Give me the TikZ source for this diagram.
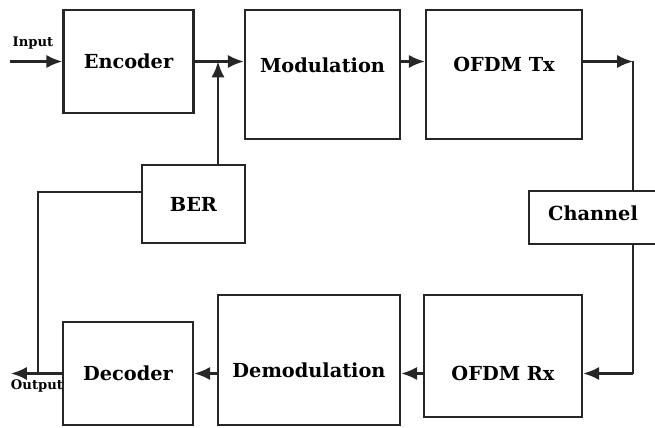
\documentclass[tikz,border=0pt]{standalone}
\usepackage{fontspec}
\setmainfont{DejaVu Serif}
\usetikzlibrary{arrows.meta, positioning, calc}

\tikzset{
	block/.style={draw, line width=1.4pt, inner sep=0pt},
	blocktxt/.style={font=\bfseries\fontsize{11}{13}\selectfont},
	smalltxt/.style={font=\bfseries\fontsize{7.5}{9}\selectfont},
	every label/.style={blocktxt},
}

\begin{document}
\begin{tikzpicture}[x=0.02cm, y=-0.02cm, line width=1.4pt, draw=black!85,
		>={Latex[length=9pt,width=7.5pt]}]
		\useasboundingbox (0,0) rectangle (655,428);

		% transmit side
		\node[block, minimum width=2.6cm, minimum height=2.06cm, label={center:Encoder}] (enc) at (128.5,61.5) {};
		\node[block, minimum width=3.1cm, minimum height=2.58cm, label={[yshift=0.18cm]center:Modulation}] (mod) at (322.5,74.5) {};
		\node[block, minimum width=3.12cm, minimum height=2.58cm, label={[yshift=0.2cm]center:OFDM Tx}] (tx) at (504,74.5) {};
		\node[block, minimum width=2.56cm, minimum height=1.06cm, label={[yshift=0.08cm]center:Channel}] (chan) at (593,217.5) {};

		% receive side
		\node[block, minimum width=3.16cm, minimum height=2.44cm, label={[yshift=-0.34cm]center:OFDM Rx}] (rx) at (503,356) {};
		\node[block, minimum width=3.64cm, minimum height=2.6cm, label={[yshift=-0.2cm]center:Demodulation}] (demod) at (309,360) {};
		\node[block, minimum width=2.6cm, minimum height=2.06cm, label={center:Decoder}] (dec) at (128,373.5) {};
		\node[block, minimum width=2.06cm, minimum height=1.56cm, label={center:BER}] (ber) at (193.5,204) {};

		\node[smalltxt] (inlbl) at (33,43) {Input};
		\node[smalltxt] (outlbl) at (37,386) {Output};

		\coordinate (in) at (10,61.5);
		\coordinate (out) at (11,373.5);
		\coordinate (j) at (218,61.5);
		\coordinate (cT) at (633,61.5);
		\coordinate (cB) at (633,373.5);
		\coordinate (fb) at (38,373.5);

		\draw[->] (in) -- (enc.west);
		\draw[->] (enc.east) -- (mod.west |- enc.east);
		\draw[->] (j |- ber.north) -- (j);
		\draw[->] (mod.east |- enc.east) -- (tx.west |- enc.east);
		\draw[->] (tx.east |- enc.east) -- (cT);
		\draw (cT) -- (cT |- chan.north);
		\draw (cT |- chan.south) -- (cB);
		\draw[->] (cB) -- (rx.east |- cB);
		\draw[->] (rx.west |- dec.east) -- (demod.east |- dec.east);
		\draw[->] (demod.west |- dec.east) -- (dec.east);
		\draw[->] (dec.west) -- (out);
		\draw ($(ber.west)+(0,-12)$) -| (fb);

	\end{tikzpicture}
\end{document}
